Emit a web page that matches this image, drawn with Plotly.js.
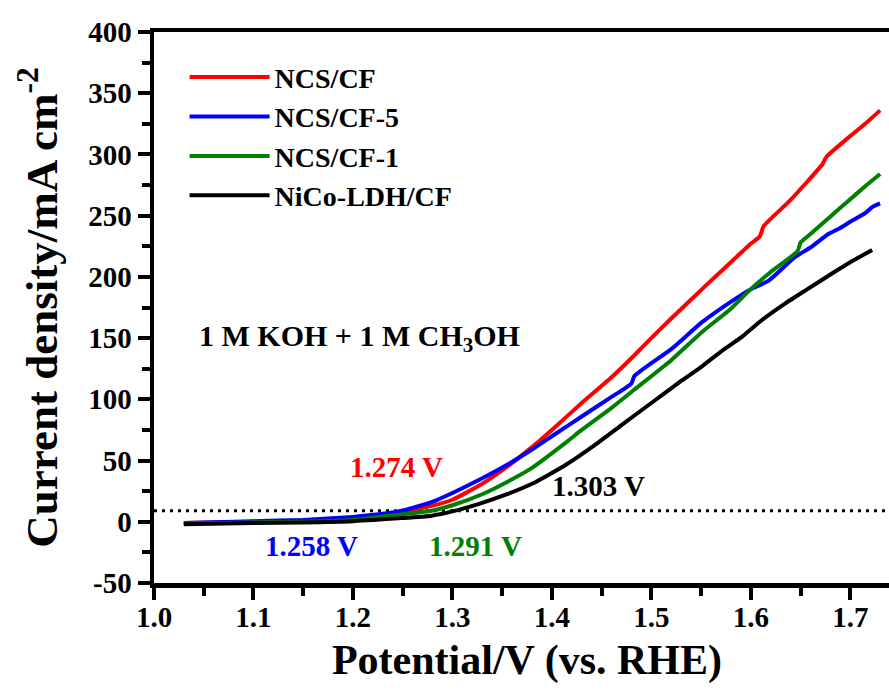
<!DOCTYPE html>
<html>
<head>
<meta charset="utf-8">
<script src="https://cdn.plot.ly/plotly-3.0.1.min.js"></script>
<style>
html, body { margin: 0; padding: 0; overflow: hidden; background: #fff; }
#chart { width: 905px; height: 690px; }
</style>
</head>
<body>
<div id="chart"></div>
<script>
// Series names
const seriesNames = ["NCS/CF", "NCS/CF-5", "NCS/CF-1", "NiCo-LDH/CF"];
const seriesColors = ["#FF0000", "#0000FF", "#008000", "#000000"];

// NCS/CF (red)
const redV = [1.03, 1.10, 1.15, 1.20, 1.23, 1.249, 1.279, 1.30, 1.33, 1.355, 1.38, 1.40, 1.43, 1.46, 1.483, 1.50, 1.52, 1.551, 1.58, 1.60, 1.609, 1.613, 1.639, 1.672, 1.676, 1.70, 1.715, 1.730];
const redJ = [-1, 0, 1, 3, 5.5, 8, 13, 18, 31, 45, 61, 75, 97, 118, 136, 150, 166, 190, 212, 227, 233, 241.5, 262, 292, 298, 315, 325, 336];

// NCS/CF-5 (blue)
const blueV = [1.03, 1.10, 1.15, 1.20, 1.23, 1.249, 1.279, 1.30, 1.33, 1.355, 1.38, 1.403, 1.43, 1.46, 1.48, 1.483, 1.52, 1.551, 1.575, 1.60, 1.618, 1.644, 1.66, 1.678, 1.69, 1.702, 1.715, 1.722, 1.730];
const blueJ = [-1, 0.5, 1.5, 4, 6.5, 9, 16, 23.5, 35.5, 46.5, 59, 71.5, 86, 102, 113, 119, 141, 163, 177, 190, 197, 216, 224, 235, 240, 246, 252, 257, 260];

// NCS/CF-1 (green)
const greenV = [1.03, 1.10, 1.15, 1.20, 1.249, 1.279, 1.30, 1.33, 1.355, 1.38, 1.413, 1.43, 1.46, 1.483, 1.52, 1.551, 1.58, 1.60, 1.62, 1.647, 1.650, 1.66, 1.681, 1.698, 1.715, 1.730];
const greenJ = [-1.5, -0.5, 0, 1.5, 6, 9, 13.5, 22.5, 32.5, 44, 64, 75, 93, 108, 132, 155, 174, 190, 204, 221, 228, 235, 250, 262, 274, 284];

// NiCo-LDH/CF (black)
const blackV = [1.03, 1.10, 1.15, 1.20, 1.249, 1.279, 1.30, 1.33, 1.355, 1.38, 1.413, 1.442, 1.47, 1.50, 1.53, 1.551, 1.57, 1.591, 1.61, 1.634, 1.655, 1.684, 1.70, 1.722];
const blackJ = [-2, -1, -0.5, 0.5, 3, 5, 8.5, 15.5, 22.5, 31, 46, 62, 79, 97, 115, 127, 139, 151, 164, 178, 189, 204, 212, 222];

// Reference line (10 mA cm^-2 level)
const refV = [1.0, 1.75];
const refJ = [9, 9];

// Onset potential labels
const onsetText = ["1.274 V", "1.258 V", "1.291 V", "1.303 V"];
const onsetX = [1.244, 1.158, 1.323, 1.447];
const onsetY = [45, -19.5, -19.5, 29];

// Ticks
const xTickVals = [1.0, 1.1, 1.2, 1.3, 1.4, 1.5, 1.6, 1.7];
const xTickText = ["1.0", "1.1", "1.2", "1.3", "1.4", "1.5", "1.6", "1.7"];
const yTickVals = [-50, 0, 50, 100, 150, 200, 250, 300, 350, 400];
const yTickText = ["-50", "0", "50", "100", "150", "200", "250", "300", "350", "400"];

const FONT = "'Liberation Serif', 'Times New Roman', serif";

const xs = [redV, blueV, greenV, blackV];
const ys = [redJ, blueJ, greenJ, blackJ];

const traces = [{
  x: refV, y: refJ, mode: "lines", showlegend: false, hoverinfo: "skip",
  line: { color: "#000", width: 3, dash: "3px,5px" }
}];
for (let i = 0; i < 4; i++) {
  traces.push({
    x: xs[i], y: ys[i], mode: "lines", name: seriesNames[i],
    line: { color: seriesColors[i], width: 4, shape: "spline", smoothing: 0.5 }
  });
}

const annotations = onsetText.map((t, i) => ({
  x: onsetX[i], y: onsetY[i], xref: "x", yref: "y", text: t, showarrow: false,
  font: { family: FONT, size: 29, color: seriesColors[i], weight: "bold" },
  xanchor: "center", yanchor: "middle"
}));
annotations.push({
  x: 1.207, y: 150, xref: "x", yref: "y", text: "1 M KOH + 1 M CH<sub>3</sub>OH",
  showarrow: false, xanchor: "center", yanchor: "middle",
  font: { family: FONT, size: 30, color: "#000", weight: "bold" }
});

const axisCommon = {
  showline: true, linewidth: 4.5, linecolor: "#000", mirror: true,
  ticks: "outside", ticklen: 12, tickwidth: 4, tickcolor: "#000",
  showgrid: false, zeroline: false,
  tickfont: { family: FONT, size: 29, color: "#000", weight: "bold" },
  tickmode: "array"
};

const layout = {
  width: 905, height: 690,
  margin: { l: 154, r: 5, t: 32, b: 107 },
  paper_bgcolor: "#fff", plot_bgcolor: "#fff",
  showlegend: true,
  legend: {
    x: 0.041, y: 0.963, xanchor: "left", yanchor: "top",
    bgcolor: "rgba(0,0,0,0)", borderwidth: 0,
    font: { family: FONT, size: 28, color: "#000", weight: "bold" },
    itemwidth: 80, tracegroupgap: 0
  },
  xaxis: Object.assign({}, axisCommon, {
    range: [1.0, 1.75], tickvals: xTickVals, ticktext: xTickText,
    ticklabelstandoff: -7,
    minor: { ticks: "outside", ticklen: 8, tickwidth: 4, tickcolor: "#000", dtick: 0.05, tick0: 1.0 },
    title: { text: "Potential/V (vs. RHE)", standoff: 14,
             font: { family: FONT, size: 42, color: "#000", weight: "bold" } }
  }),
  yaxis: Object.assign({}, axisCommon, {
    range: [-50, 400], tickvals: yTickVals, ticktext: yTickText,
    minor: { ticks: "outside", ticklen: 8, tickwidth: 4, tickcolor: "#000", dtick: 25, tick0: 0 },
    title: { text: "Current density/mA cm<sup>-2</sup>", standoff: 18,
             font: { family: FONT, size: 45, color: "#000", weight: "bold" } }
  }),
  annotations: annotations
};

Plotly.newPlot("chart", traces, layout, { displayModeBar: false, staticPlot: true });
</script>
</body>
</html>
